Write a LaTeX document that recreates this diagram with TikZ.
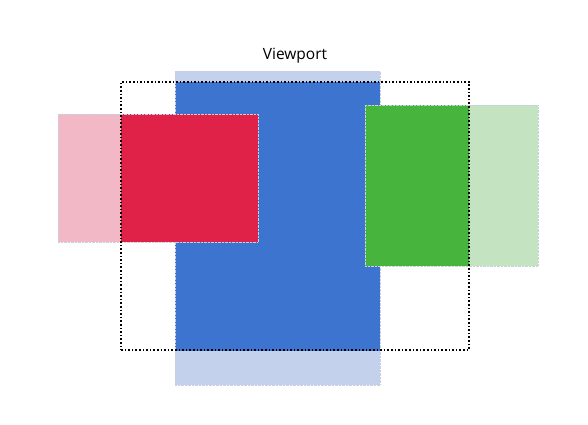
\documentclass[tikz,border=0pt]{standalone}
\usepackage{fontspec}
\setmainfont{Open Sans}
\usepackage{xcolor}
\usetikzlibrary{positioning}
\definecolor{bluedark}{HTML}{3D74D0}
\definecolor{bluelight}{HTML}{C3D1EC}
\definecolor{reddark}{HTML}{E02148}
\definecolor{redlight}{HTML}{F2B8C6}
\definecolor{greendark}{HTML}{47B43E}
\definecolor{greenlight}{HTML}{C4E3C0}
\definecolor{edgegray}{HTML}{C8D0E0}

\begin{document}
\begin{tikzpicture}[
    x=1pt, y=-1pt,
    panel/.style={draw=edgegray, densely dotted, inner sep=0pt, outer sep=0pt},
    view/.style={draw=black, line width=1.6pt, dotted, inner sep=0pt, outer sep=0pt, minimum width=348pt, minimum height=268pt}
]
\useasboundingbox (0,0) rectangle (588,424);

% outer parts, seen outside the viewport
\node (blue) [panel, fill=bluelight, minimum width=205pt, minimum height=314pt] at (277.5,228) {};
\node (red) [panel, fill=redlight, minimum width=200pt, minimum height=128pt] at (158,178) {};
\node (green) [panel, fill=greenlight, minimum width=173pt, minimum height=161pt] at (451.5,185.5) {};

% parts inside the viewport
\begin{scope}
  \clip (121,82) rectangle (469,350);
  \node (bluein) [panel, fill=bluedark, minimum width=205pt, minimum height=314pt] at (blue) {};
  \node (redin) [panel, fill=reddark, minimum width=200pt, minimum height=128pt] at (red) {};
  \node (greenin) [panel, fill=greendark, minimum width=173pt, minimum height=161pt] at (green) {};
\end{scope}

\node (viewport) [view] at (295,216) {};
\node (title) [above=17pt of viewport.north, font=\fontsize{15.5}{18}\selectfont, inner sep=2pt] {Viewport};
\end{tikzpicture}
\end{document}
